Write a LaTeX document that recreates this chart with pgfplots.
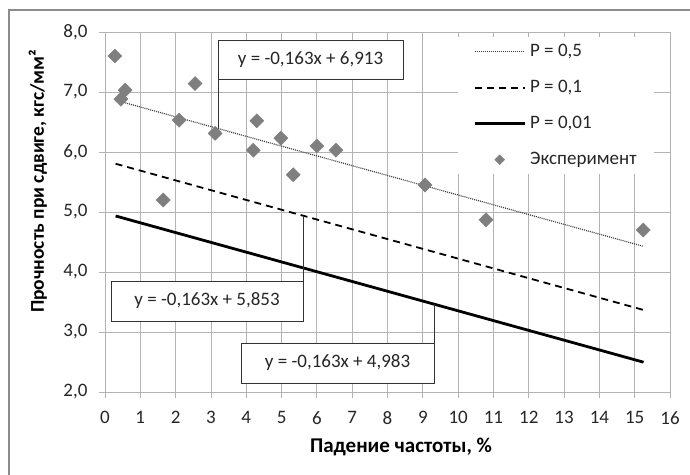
\documentclass[border=0pt]{standalone}
\usepackage{pgfplots}
\pgfplotsset{compat=1.18}
\usepackage{fontspec}
\setmainfont{Carlito}
\definecolor{gridgray}{HTML}{B3B3B3}
\definecolor{markgray}{HTML}{7F7F7F}
\definecolor{framegray}{HTML}{8C8C8C}
\definecolor{txt}{HTML}{262626}
\pgfplotsset{
  linelegend/.style={legend image code/.code={\draw[##1] (0pt,0pt) -- (50pt,0pt);}},
  marklegend/.style={legend image code/.code={\draw[##1, mark size=3.5pt] plot coordinates {(25pt,0pt)};}},
}
\begin{document}
\begin{tikzpicture}[font=\fontsize{19}{22}\selectfont]
\useasboundingbox (0,0) rectangle (690pt,474pt);
\fill[white] (0,0) rectangle (690pt,474pt);
\draw[framegray, line width=1.5pt] (9pt,-5pt) -- (9pt,464pt) -- (700pt,464pt);
\begin{axis}[
  at={(105pt,82pt)}, anchor=south west,
  x=35.3125pt, y=60pt,
  xmin=0, xmax=16, ymin=2, ymax=8,
  xtick={0,...,16}, ytick={2,...,8},
  grid=major, grid style={gridgray, line width=0.8pt},
  axis line style={gridgray, line width=0.8pt},
  tick style={gridgray, line width=0.8pt},
  tick align=outside, tick pos=left, major tick length=6pt,
  /pgf/number format/assume math mode=true,
  yticklabel style={/pgf/number format/fixed, /pgf/number format/fixed zerofill, /pgf/number format/precision=1, /pgf/number format/use comma, text=txt, xshift=-8pt},
  xticklabel style={text=txt, yshift=-10pt},
  every axis x label/.style={at={(axis description cs:0.524,-0.153)}, anchor=center, font=\fontsize{21}{24}\selectfont\bfseries},
  every axis y label/.style={at={(axis description cs:-0.1186,0.585)}, rotate=90, anchor=center, font=\fontsize{19.5}{22}\selectfont\bfseries},
  xlabel={Падение частоты, \%},
  ylabel={Прочность при сдвиге, кгс/мм²},
  legend style={at={(axis description cs:0.625,0.986)}, anchor=north west, draw=none, fill=white,
    inner xsep=15pt, inner ysep=4pt, row sep=15pt,
    nodes={inner sep=2pt, text height=13pt, text depth=4pt, text=txt},
    /tikz/every odd column/.append style={column sep=2pt}},
  legend cell align=left,
]
\addplot[linelegend, color=black!75, line width=1.2pt, dash pattern=on 1pt off 1pt] coordinates {(0.3,6.864) (15.25,4.427)};
\addlegendentry{P = 0,5}
\addplot[linelegend, color=black, line width=1.8pt, dash pattern=on 7pt off 5pt] coordinates {(0.3,5.804) (15.25,3.367)};
\addlegendentry{P = 0,1}
\addplot[linelegend, color=black, line width=2.8pt] coordinates {(0.3,4.934) (15.25,2.497)};
\addlegendentry{P = 0,01}
\addplot[marklegend, only marks, mark=square*, mark size=5pt, mark options={rotate=45, fill=markgray, draw=markgray}]
  coordinates {
  (0.28,7.60) (0.45,6.88) (0.57,7.03) (1.65,5.20) (2.10,6.53) (2.55,7.14)
  (3.12,6.31) (4.20,6.03) (4.30,6.52) (4.98,6.23) (5.33,5.62) (6.00,6.10)
  (6.54,6.03) (9.06,5.45) (10.79,4.87) (15.24,4.70)};
\addlegendentry{Эксперимент}
\draw[black!80, line width=0.8pt] (axis cs:3.20,7.217) -- (axis cs:3.20,6.39);
\draw[black!80, line width=0.8pt, fill=white] (axis cs:3.20,7.217) rectangle (axis cs:8.44,7.867);
\node[text=txt] at (axis cs:5.82,7.542) {y = -0,163x + 6,913};
\draw[black!80, line width=0.8pt] (axis cs:5.61,3.85) -- (axis cs:5.61,4.94);
\draw[black!80, line width=0.8pt, fill=white] (axis cs:0.17,3.183) rectangle (axis cs:5.61,3.85);
\node[text=txt] at (axis cs:2.89,3.517) {y = -0,163x + 5,853};
\draw[black!80, line width=0.8pt] (axis cs:9.32,2.817) -- (axis cs:9.32,3.464);
\draw[black!80, line width=0.8pt, fill=white] (axis cs:3.85,2.15) rectangle (axis cs:9.32,2.817);
\node[text=txt] at (axis cs:6.585,2.483) {y = -0,163x + 4,983};
\end{axis}
\end{tikzpicture}
\end{document}
